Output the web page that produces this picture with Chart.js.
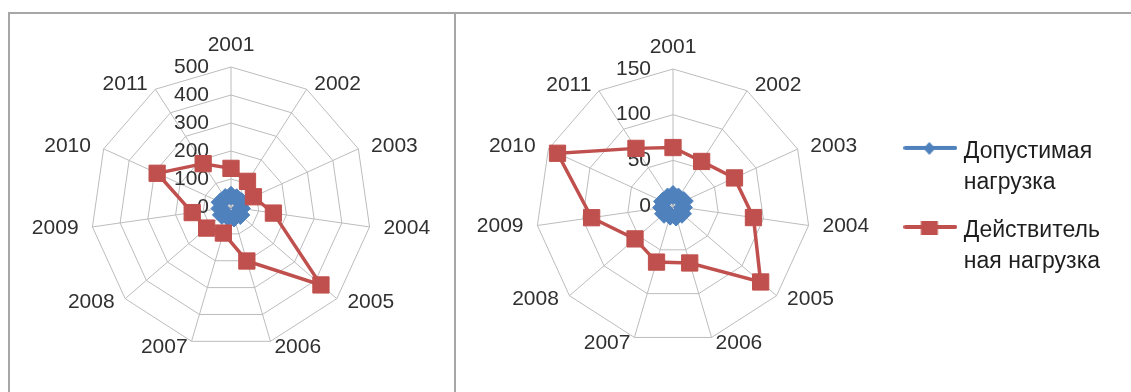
<!DOCTYPE html>
<html>
<head>
<meta charset="utf-8">
<script src="https://cdn.jsdelivr.net/npm/chart.js@4.4.1/dist/chart.umd.min.js"></script>
<style>
  html, body { margin: 0; padding: 0; background: #ffffff; width: 1131px; height: 392px; overflow: hidden; }
  #frame { position: absolute; left: 8px; top: 12px; width: 1140px; height: 400px;
           border-top: 2px solid #a6a6a6; border-left: 2px solid #a6a6a6; box-sizing: border-box; }
  #divider { position: absolute; left: 454px; top: 12px; width: 2px; height: 400px; background: #a6a6a6; }
  .box { position: absolute; }
  #leftBox { left: 10px; top: 14px; width: 444px; height: 378px; }
  #rightBox { left: 456px; top: 14px; width: 675px; height: 378px; }
</style>
</head>
<body>
<div id="frame"></div>
<div id="divider"></div>
<div class="box" id="leftBox"><canvas id="leftChart"></canvas></div>
<div class="box" id="rightBox"><canvas id="rightChart"></canvas></div>
<script>
// Years on the radar spokes
const years = ['2001', '2002', '2003', '2004', '2005', '2006', '2007', '2008', '2009', '2010', '2011'];

// Left chart (scale 0–500)
const leftAllowed = [40, 37, 42, 36, 44, 39, 37, 43, 38, 41, 38];
const leftActual  = [138, 109, 88, 153, 425, 201, 97, 115, 140, 290, 184];
const leftTicks   = [0, 100, 200, 300, 400, 500];

// Right chart (scale 0–150)
const rightAllowed = [12, 11, 13, 11, 13, 12, 11, 13, 12, 12, 11];
const rightActual  = [64, 58, 74, 89, 127, 65, 64, 55, 90, 139, 75];
const rightTicks   = [0, 50, 100, 150];

// Series names (legend lines)
const allowedName = ['Допустимая', 'нагрузка'];
const actualName  = ['Действитель', 'ная нагрузка'];

const BLUE = '#4f81bd';
const RED = '#c0504d';
const GRID = '#bcbcbc';
const TEXT = '#303030';
const FONT = '"Liberation Sans", Arial, sans-serif';

// Value labels to the left of the top spoke, drawn under the series
const sideTicks = {
  id: 'sideTicks',
  beforeDatasetsDraw(chart, args, opts) {
    const s = chart.scales.r;
    const ctx = chart.ctx;
    ctx.save();
    ctx.font = opts.size + 'px ' + FONT;
    ctx.fillStyle = TEXT;
    ctx.textAlign = 'right';
    ctx.textBaseline = 'middle';
    s.ticks.forEach(t => {
      const d = s.getDistanceFromCenterForValue(t.value);
      ctx.fillText(String(t.value), s.xCenter - opts.offset, s.yCenter - d);
    });
    ctx.restore();
  }
};

// Year labels around the outer ring: pushed out along each spoke,
// left/right aligned by side and vertically centred on the spoke end
const yearLabels = {
  id: 'yearLabels',
  beforeDatasetsDraw(chart, args, opts) {
    const s = chart.scales.r;
    const ctx = chart.ctx;
    ctx.save();
    ctx.font = opts.size + 'px ' + FONT;
    ctx.fillStyle = TEXT;
    ctx.textBaseline = 'middle';
    chart.data.labels.forEach((label, i) => {
      const end = s.getPointPosition(i, s.drawingArea);
      const ux = (end.x - s.xCenter) / s.drawingArea;
      const uy = (end.y - s.yCenter) / s.drawingArea;
      let x, y;
      if (Math.abs(ux) < 0.05) {
        ctx.textAlign = 'center';
        x = end.x;
        y = end.y + uy * opts.vertical;
      } else {
        ctx.textAlign = ux > 0 ? 'left' : 'right';
        x = end.x + ux * opts.along;
        y = end.y + uy * opts.side;
      }
      ctx.fillText(label, x, y);
    });
    ctx.restore();
  }
};

function legendIcon(color, shape) {
  const c = document.createElement('canvas');
  c.width = 54; c.height = 20;
  const g = c.getContext('2d');
  g.strokeStyle = color;
  g.fillStyle = color;
  g.lineWidth = 4;
  g.lineCap = 'round';
  g.beginPath(); g.moveTo(2, 6); g.lineTo(52, 6); g.stroke();
  if (shape === 'diamond') {
    g.beginPath(); g.moveTo(26, 0); g.lineTo(32, 6.5); g.lineTo(26, 13); g.lineTo(20, 6.5); g.closePath(); g.fill();
  } else {
    g.fillRect(17.5, 0, 17, 14);
  }
  return c;
}

function radarConfig(allowed, actual, ticks, withLegend, padding) {
  return {
    type: 'radar',
    data: {
      labels: years,
      datasets: [
        {
          label: allowedName.join(' '),
          data: allowed,
          borderColor: BLUE,
          backgroundColor: BLUE,
          borderWidth: 3.5,
          pointStyle: 'rectRot',
          pointRadius: 9.5,
          pointBorderWidth: 1,
          pointBackgroundColor: BLUE,
          pointBorderColor: BLUE,
          fill: false,
          order: 1
        },
        {
          label: actualName.join(' '),
          data: actual,
          borderColor: RED,
          backgroundColor: RED,
          borderWidth: 3.5,
          pointStyle: 'rect',
          pointRadius: 11.5,
          pointBorderWidth: 1,
          pointBackgroundColor: RED,
          pointBorderColor: RED,
          fill: false,
          order: 0
        }
      ]
    },
    options: {
      responsive: true,
      maintainAspectRatio: false,
      animation: false,
      devicePixelRatio: 1,
      layout: { padding: padding },
      scales: {
        r: {
          min: ticks[0],
          max: ticks[ticks.length - 1],
          ticks: { stepSize: ticks[1] - ticks[0], display: false },
          grid: { color: GRID, lineWidth: 1 },
          angleLines: { color: GRID, lineWidth: 1 },
          pointLabels: { display: false }
        }
      },
      plugins: {
        sideTicks: { offset: 22, size: 21 },
        yearLabels: { size: 21, along: 14, side: 6, vertical: 22 },
        tooltip: { enabled: false },
        legend: {
          display: withLegend,
          position: 'right',
          title: { display: true, text: '', padding: { top: 8, bottom: 0 }, font: { size: 1, lineHeight: 1 } },
          labels: {
            usePointStyle: true,
            pointStyleWidth: 44,
            padding: 17,
            font: { family: FONT, size: 23, lineHeight: 1.35 },
            color: '#1e1e1e',
            generateLabels: () => [
              { text: allowedName, pointStyle: legendIcon(BLUE, 'diamond'), fillStyle: BLUE, strokeStyle: BLUE, lineWidth: 0, datasetIndex: 0, fontColor: '#1e1e1e' },
              { text: actualName, pointStyle: legendIcon(RED, 'square'), fillStyle: RED, strokeStyle: RED, lineWidth: 0, datasetIndex: 1, fontColor: '#1e1e1e' }
            ]
          }
        }
      }
    },
    plugins: [sideTicks, yearLabels]
  };
}

new Chart(document.getElementById('leftChart'),
  radarConfig(leftAllowed, leftActual, leftTicks, false, { top: 53, bottom: 45, left: 0, right: 2 }));
new Chart(document.getElementById('rightChart'),
  radarConfig(rightAllowed, rightActual, rightTicks, true, { top: 55, bottom: 48, left: 0, right: 21 }));
</script>
</body>
</html>
